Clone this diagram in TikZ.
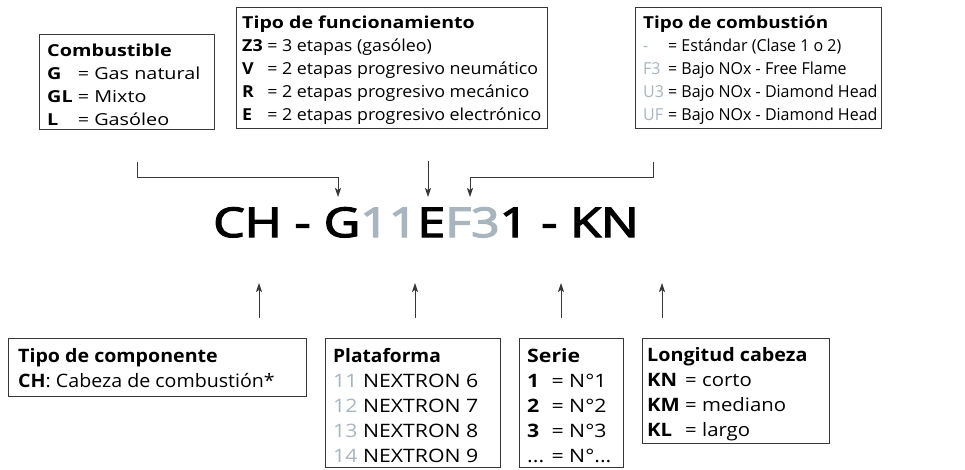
\documentclass[tikz,border=0pt]{standalone}
\usepackage{fontspec}
\usepackage{graphicx}
\setmainfont{Open Sans}
\newfontfamily\codefont[FakeBold=3]{Open Sans}
\usetikzlibrary{arrows.meta,calc}
\definecolor{codegray}{RGB}{168,181,191}
\definecolor{linegray}{RGB}{55,55,55}
\newcommand{\gc}[1]{\textcolor{codegray}{#1}}
\newcommand{\topfont}{\fontsize{16.5}{22.8}\selectfont}
\newcommand{\botfont}{\fontsize{18.5}{25}\selectfont}
\newcommand{\hsc}[2]{\scalebox{#1}[1]{#2}}
\newcommand{\ttl}[2]{\multicolumn{2}{@{}l@{}}{\hsc{#1}{\textbf{#2}}}}
\begin{document}
\begin{tikzpicture}[x=1pt,y=-1pt,
  box/.style={draw=linegray, line width=0.9pt, inner sep=0pt, anchor=north west},
  txt/.style={inner sep=0pt, anchor=base west, align=left},
  conn/.style={draw=linegray, line width=0.9pt, -{Stealth[length=9pt,width=6pt,inset=2pt]}},
  ]
\useasboundingbox (0,0) rectangle (965,470);

% ---------- top boxes ----------
\node[box, minimum width=175, minimum height=95] (comb) at (39,34) {};
\node[txt] (combt) at (47,57) {\topfont\hsc{1.2}{\begin{tabular}[t]{@{}l@{ }l@{}}
\ttl{1}{Combustible}\\
\textbf{G} & = Gas natural\\
\textbf{GL} & = Mixto\\
\textbf{L} & = Gasóleo
\end{tabular}}};

\node[box, minimum width=311, minimum height=121] (func) at (236,7) {};
\node[txt] (funct) at (242,29) {\topfont\hsc{1.08}{\begin{tabular}[t]{@{}l@{ }l@{}}
\ttl{1.1}{Tipo de funcionamiento}\\
\textbf{Z3} & = 3 etapas (gasóleo)\\
\textbf{V} & = 2 etapas progresivo neumático\\
\textbf{R} & = 2 etapas progresivo mecánico\\
\textbf{E} & = 2 etapas progresivo electrónico
\end{tabular}}};

\node[box, minimum width=246, minimum height=121] (comb2) at (635,7) {};
\node[txt] (comb2t) at (643,29) {\topfont\hsc{0.97}{\begin{tabular}[t]{@{}l@{ }l@{}}
\ttl{1.18}{Tipo de combustión}\\
\gc{-} & = Estándar (Clase 1 o 2)\\
\gc{F3} & = Bajo NOx - Free Flame\\
\gc{U3} & = Bajo NOx - Diamond Head\\
\gc{UF} & = Bajo NOx - Diamond Head
\end{tabular}}};

% ---------- code ----------
\node[inner sep=0pt, anchor=base] (code) at (426,237) {\hsc{1.22}{\codefont\fontsize{41}{44}\selectfont CH - G\gc{11}E\gc{F3}1 - KN}};

% ---------- top connectors ----------
\coordinate (c1s) at (137,162);
\coordinate (c1e) at (338,197);
\coordinate (c2s) at (428,161);
\coordinate (c2e) at (428,197);
\coordinate (c3s) at (653,162);
\coordinate (c3e) at (470,197);
\draw[conn] (c1s) |- ($(c1e)+(0,-20)$) -- (c1e);
\draw[conn] (c2s) -- (c2e);
\draw[conn] (c3s) |- ($(c3e)+(0,-20)$) -- (c3e);

% ---------- bottom boxes ----------
\node[box, minimum width=298, minimum height=58] (comp) at (8,338) {};
\node[txt] (compt) at (18,362) {\botfont\hsc{1.06}{\begin{tabular}[t]{@{}l@{}}
\textbf{Tipo de componente}\\
\textbf{CH}: Cabeza de combustión*
\end{tabular}}};

\node[box, minimum width=175, minimum height=129] (plat) at (325,338) {};
\node[txt] (platt) at (333,362) {\botfont\hsc{1.15}{\begin{tabular}[t]{@{}l@{}}
\hsc{0.9}{\textbf{Plataforma}}\\
\gc{11} NEXTRON 6\\
\gc{12} NEXTRON 7\\
\gc{13} NEXTRON 8\\
\gc{14} NEXTRON 9
\end{tabular}}};

\node[box, minimum width=104, minimum height=129] (serie) at (519,338) {};
\node[txt] (seriet) at (527,362) {\botfont\hsc{1.15}{\begin{tabular}[t]{@{}l@{ }l@{}}
\ttl{1}{Serie}\\
\textbf{1} & = N°1\\
\textbf{2} & = N°2\\
\textbf{3} & = N°3\\
... & = N°...
\end{tabular}}};

\node[box, minimum width=187, minimum height=105] (long) at (642,338) {};
\node[txt] (longt) at (647,361) {\botfont\hsc{1.1}{\begin{tabular}[t]{@{}l@{ }l@{}}
\ttl{0.97}{Longitud cabeza}\\
\textbf{KN} & = corto\\
\textbf{KM} & = mediano\\
\textbf{KL} & = largo
\end{tabular}}};

% ---------- bottom connectors ----------
\coordinate (b1) at (259,318);
\coordinate (b1e) at (259,283);
\coordinate (b2) at (415,318);
\coordinate (b2e) at (415,283);
\coordinate (b3) at (561,318);
\coordinate (b3e) at (561,283);
\coordinate (b4) at (662,318);
\coordinate (b4e) at (662,283);
\draw[conn] (b1) -- (b1e);
\draw[conn] (b2) -- (b2e);
\draw[conn] (b3) -- (b3e);
\draw[conn] (b4) -- (b4e);
\end{tikzpicture}
\end{document}
